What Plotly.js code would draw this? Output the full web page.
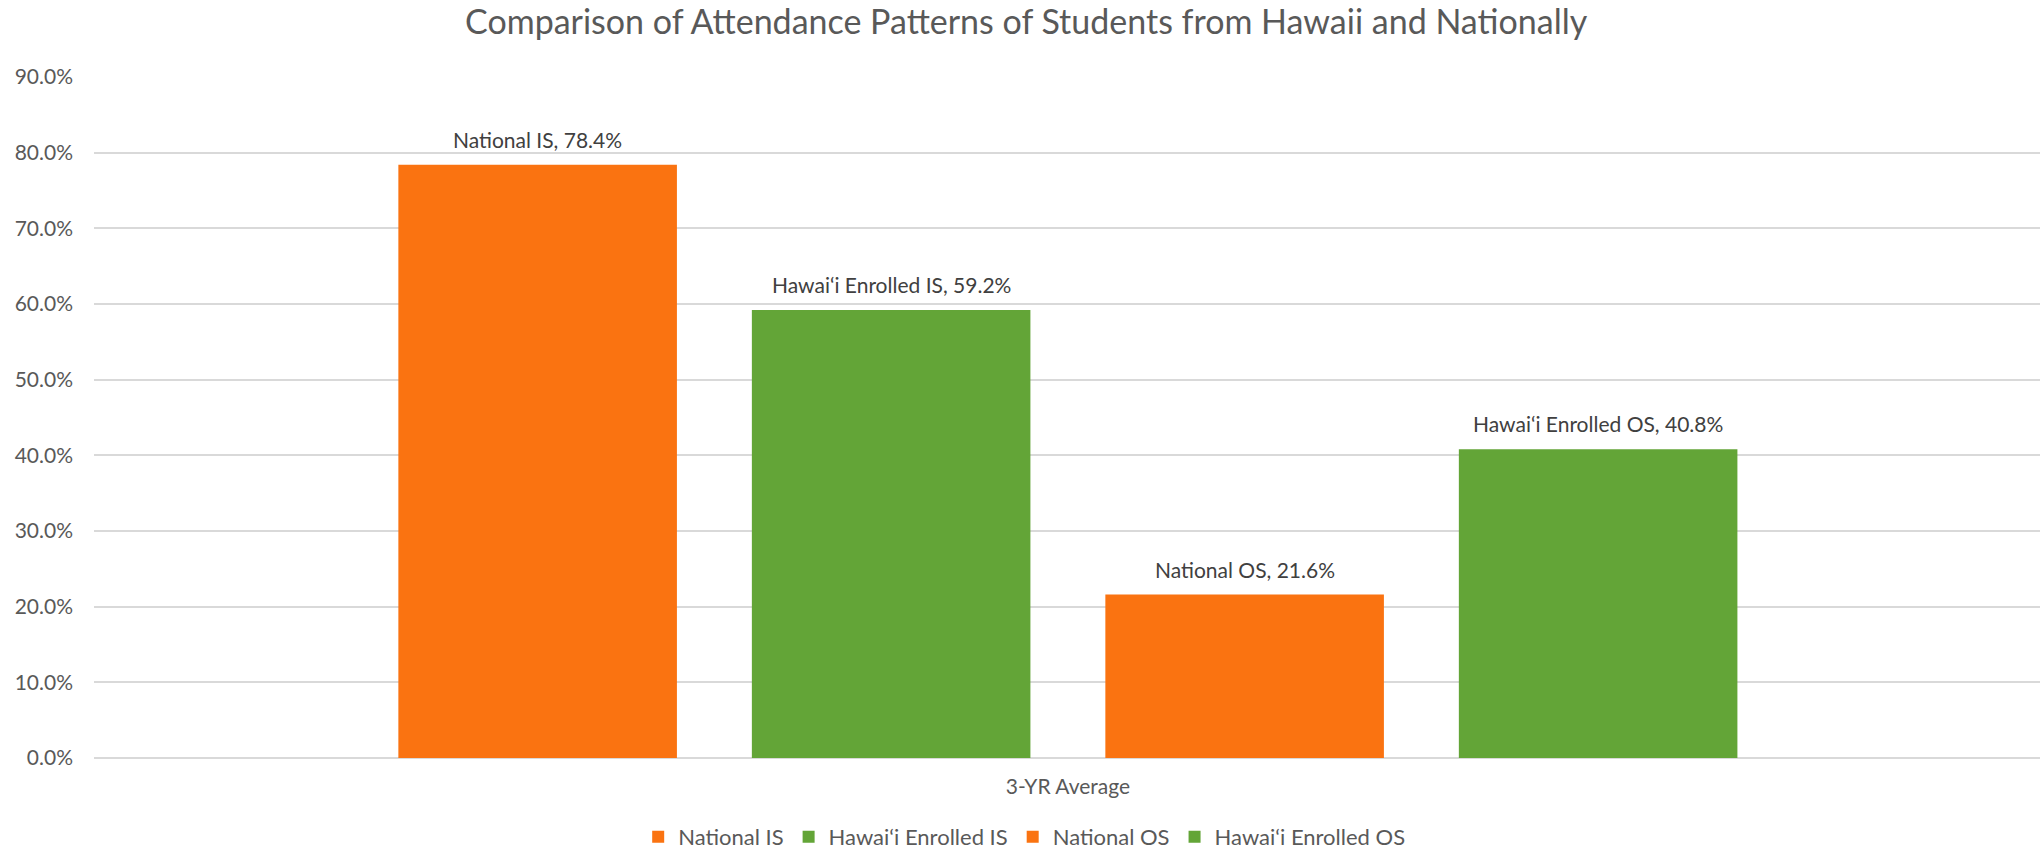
<!DOCTYPE html>
<html>
<head>
<meta charset="utf-8">
<script src="https://cdn.plot.ly/plotly-3.0.1.min.js"></script>
<style>
  html, body { margin: 0; padding: 0; background: #fff; }
  #chart { width: 2040px; height: 850px; }
</style>
</head>
<body>
<div id="chart"></div>
<script>
// values
var category = '3-YR Average';
var seriesNames = ['National IS', 'Hawai\u2018i Enrolled IS', 'National OS', 'Hawai\u2018i Enrolled OS'];
var seriesValues = [0.784, 0.592, 0.216, 0.408];
var seriesColors = ['#FA7311', '#63A537', '#FA7311', '#63A537'];
var yTickValues = [0, 0.1, 0.2, 0.3, 0.4, 0.5, 0.6, 0.7, 0.8, 0.9];

var textColor = '#595959';
var fontFamily = 'Lato, "Open Sans", sans-serif';

var data = seriesNames.map(function (name, i) {
    return {
        type: 'bar',
        name: name,
        x: [i],
        y: [seriesValues[i]],
        width: 0.788,
        marker: { color: seriesColors[i] },
        hoverinfo: 'name+y'
    };
});

// data labels above each bar: "Series, value"
var annotations = seriesNames.map(function (name, i) {
    return {
        x: i,
        y: seriesValues[i],
        xref: 'x',
        yref: 'y',
        text: name + ', ' + (seriesValues[i] * 100).toFixed(1) + '%',
        showarrow: false,
        xanchor: 'center',
        yanchor: 'bottom',
        yshift: 11,
        font: { family: fontFamily, size: 21, color: '#404040' }
    };
});

var layout = {
    width: 2040,
    height: 850,
    paper_bgcolor: '#ffffff',
    plot_bgcolor: '#ffffff',
    font: { family: fontFamily, size: 21, color: textColor },
    title: {
        text: 'Comparison of Attendance Patterns of Students from Hawaii and Nationally',
        font: { family: fontFamily, size: 34, color: textColor },
        x: 0.503,
        xref: 'container',
        xanchor: 'center',
        y: 0.974,
        yref: 'container',
        yanchor: 'middle'
    },
    margin: { l: 94, r: 0, t: 77, b: 92 },
    barmode: 'overlay',
    xaxis: {
        range: [-1.255, seriesNames.length - 1 + 1.25],
        tickvals: [(seriesNames.length - 1) / 2],
        ticktext: [category],
        showgrid: false,
        zeroline: false,
        showline: false,
        ticks: '',
        ticklabelstandoff: 14,
        tickfont: { family: fontFamily, size: 21, color: textColor },
        fixedrange: true
    },
    yaxis: {
        range: [0, 0.9],
        tickvals: yTickValues,
        tickformat: '.1%',
        showgrid: true,
        gridcolor: '#D9D9D9',
        gridwidth: 1.5,
        zeroline: true,
        zerolinecolor: '#D9D9D9',
        zerolinewidth: 2,
        showline: false,
        ticks: '',
        ticklabelstandoff: 20,
        tickfont: { family: fontFamily, size: 21, color: textColor },
        fixedrange: true
    },
    showlegend: true,
    legend: {
        orientation: 'h',
        x: 0.478,
        xanchor: 'center',
        yref: 'container',
        y: 0.0153,
        yanchor: 'middle',
        traceorder: 'normal',
        font: { family: fontFamily, size: 22, color: textColor }
    },
    annotations: annotations
};

Plotly.newPlot('chart', data, layout, { displayModeBar: false, responsive: false });
</script>
</body>
</html>
